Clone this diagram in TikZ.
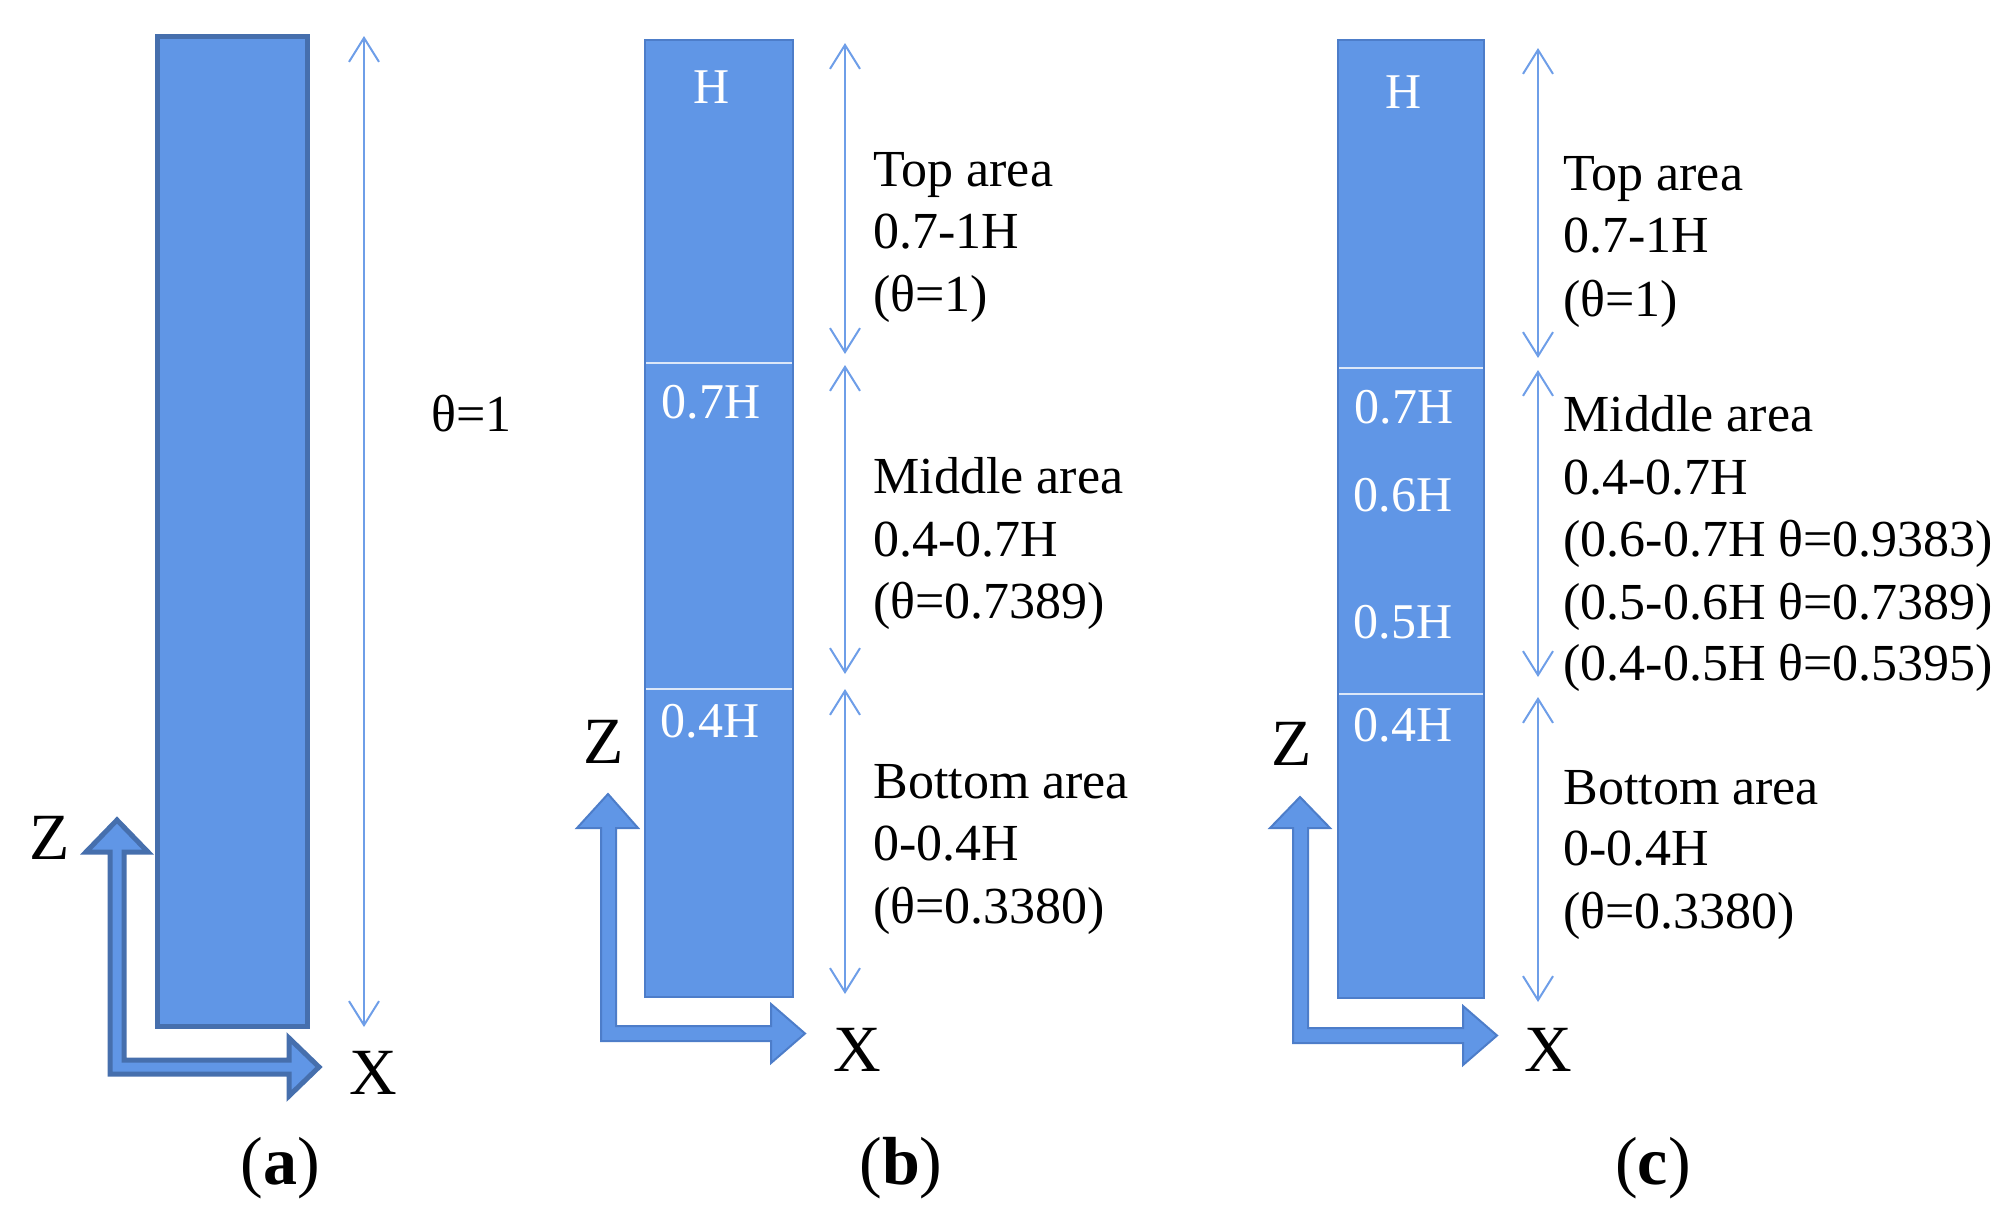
\documentclass[tikz,border=0pt]{standalone}
\usepackage{fontspec}
\setmainfont{Liberation Serif}
\usetikzlibrary{arrows.meta}
\definecolor{boxfill}{HTML}{6096E6}
\definecolor{boxedge}{HTML}{466FAD}
\definecolor{boxedgeb}{HTML}{4D7DC9}
\definecolor{dimcol}{HTML}{6E9EE8}
\definecolor{divcol}{HTML}{DCE7F8}
\begin{document}
\begin{tikzpicture}[x=0.5pt,y=-0.5pt,
  boxa/.style={draw=boxedge, line width=2.5pt, fill=boxfill},
  boxbc/.style={draw=boxedgeb, line width=1pt, fill=boxfill},
  divline/.style={draw=divcol, line width=1pt},
  dimarrow/.style={draw=dimcol, line width=1pt, {Straight Barb[length=12pt,width=15pt,line width=1pt]}-{Straight Barb[length=12pt,width=15pt,line width=1pt]}},
  axisa/.style={draw=boxedge, line width=2.5pt, fill=boxfill, miter limit=10},
  axisbc/.style={draw=boxedgeb, line width=1pt, fill=boxfill, miter limit=10},
  txt/.style={anchor=base west, inner sep=0pt, font=\fontsize{26}{31}\selectfont},
  inlbl/.style={text=white, inner sep=0pt, font=\fontsize{25}{30}\selectfont},
  axlbl/.style={inner sep=0pt, font=\fontsize{33}{38}\selectfont},
  sublbl/.style={inner sep=0pt, font=\fontsize{34}{40}\selectfont}
]
\useasboundingbox (0,0) rectangle (2012,1227);

% ---------------- panel (a)
\draw[boxa] (157,36) rectangle (307,1026);
\coordinate (aT) at (364,36);
\coordinate (aB) at (364,1027);
\draw[dimarrow, line width=1.3pt] (aT) -- (aB);
\node[txt] (atheta) at (431,431) {θ=1};
\draw[axisa] (117,820) -- (148,852) -- (124,852) -- (124,1060) -- (289,1060) -- (289,1038)
  -- (319,1067) -- (289,1096) -- (289,1074) -- (110,1074) -- (110,852) -- (86,852) -- cycle;
\node[axlbl] (aZ) at (50,838) {Z};
\node[axlbl] (aX) at (373,1073) {X};
\node[sublbl] (alab) at (280,1168) {(\textbf{a})};

% ---------------- panel (b)
\draw[boxbc] (645,40) rectangle (793,997);
\draw[divline] (646,363) -- (792,363);
\draw[divline] (646,689) -- (792,689);
\node[inlbl] (bH) at (712,87) {H};
\node[inlbl] (b07) at (711,402) {0.7H};
\node[inlbl] (b04) at (710,721) {0.4H};
\coordinate (b1) at (845,43);
\coordinate (b2) at (845,354);
\coordinate (b3) at (845,365);
\coordinate (b4) at (845,674);
\coordinate (b5) at (845,689);
\coordinate (b6) at (845,994);
\draw[dimarrow] (b1) -- (b2);
\draw[dimarrow] (b3) -- (b4);
\draw[dimarrow] (b5) -- (b6);
\node[txt] (bt1) at (873,186) {Top area};
\node[txt] (bt2) at (873,248) {0.7-1H};
\node[txt] (bt3) at (873,311) {(θ=1)};
\node[txt] (bm1) at (873,493) {Middle area};
\node[txt] (bm2) at (873,556) {0.4-0.7H};
\node[txt] (bm3) at (873,618) {(θ=0.7389)};
\node[txt] (bb1) at (873,798) {Bottom area};
\node[txt] (bb2) at (873,860) {0-0.4H};
\node[txt] (bb3) at (873,923) {(θ=0.3380)};
\draw[axisbc] (608,794) -- (638,828) -- (616,828) -- (616,1026) -- (771,1026) -- (771,1004)
  -- (805,1033.5) -- (771,1063) -- (771,1041) -- (601,1041) -- (601,828) -- (577,828) -- cycle;
\node[axlbl] (bZ) at (604,742) {Z};
\node[axlbl] (bX) at (857,1050) {X};
\node[sublbl] (blab) at (901,1168) {(\textbf{b})};

% ---------------- panel (c)
\draw[boxbc] (1338,40) rectangle (1484,998);
\draw[divline] (1339,368) -- (1483,368);
\draw[divline] (1339,694) -- (1483,694);
\node[inlbl] (cH) at (1404,92) {H};
\node[inlbl] (c07) at (1404,407) {0.7H};
\node[inlbl] (c06) at (1403,495) {0.6H};
\node[inlbl] (c05) at (1403,622) {0.5H};
\node[inlbl] (c04) at (1403,725) {0.4H};
\coordinate (c1) at (1538,48);
\coordinate (c2) at (1538,358);
\coordinate (c3) at (1538,370);
\coordinate (c4) at (1538,677);
\coordinate (c5) at (1538,697);
\coordinate (c6) at (1538,1002);
\draw[dimarrow] (c1) -- (c2);
\draw[dimarrow] (c3) -- (c4);
\draw[dimarrow] (c5) -- (c6);
\node[txt] (ct1) at (1563,190) {Top area};
\node[txt] (ct2) at (1563,252) {0.7-1H};
\node[txt] (ct3) at (1563,316) {(θ=1)};
\node[txt] (cm1) at (1563,431) {Middle area};
\node[txt] (cm2) at (1563,494) {0.4-0.7H};
\node[txt] (cm3) at (1563,556) {(0.6-0.7H θ=0.9383)};
\node[txt] (cm4) at (1563,619) {(0.5-0.6H θ=0.7389)};
\node[txt] (cm5) at (1563,680) {(0.4-0.5H θ=0.5395)};
\node[txt] (cb1) at (1563,804) {Bottom area};
\node[txt] (cb2) at (1563,865) {0-0.4H};
\node[txt] (cb3) at (1563,928) {(θ=0.3380)};
\draw[axisbc] (1300,797) -- (1330,828) -- (1308,828) -- (1308,1028) -- (1463,1028) -- (1463,1006)
  -- (1497,1035.5) -- (1463,1065) -- (1463,1043) -- (1293,1043) -- (1293,828) -- (1270,828) -- cycle;
\node[axlbl] (cZ) at (1292,744) {Z};
\node[axlbl] (cX) at (1548,1050) {X};
\node[sublbl] (clab) at (1653,1168) {(\textbf{c})};
\end{tikzpicture}
\end{document}
